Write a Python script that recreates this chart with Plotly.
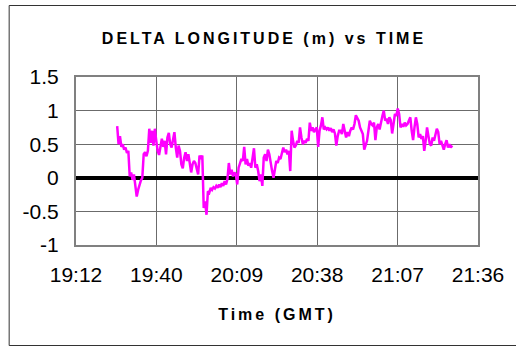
import pandas as pd
import plotly.graph_objects as go

# GPS longitude offset (metres), sampled every 30 s starting 19:26:45 GMT
start_time = "2000-01-01 19:26:45"
sample_step = "30s"
delta_lon = [
    0.77, 0.50, 0.62, 0.46, 0.50, 0.42, 0.45, 0.37, 0.40, 0.02,
    0.08, -0.03, 0.05, -0.15, -0.28, -0.18, -0.10, -0.04, 0.00, 0.35,
    0.38, 0.32, 0.40, 0.73, 0.52, 0.70, 0.48, 0.73, 0.55, 0.40,
    0.34, 0.50, 0.58, 0.46, 0.55, 0.35, 0.60, 0.67, 0.50, 0.45,
    0.55, 0.68, 0.45, 0.30, 0.48, 0.40, 0.20, 0.14, 0.30, 0.38,
    0.25, 0.35, 0.22, 0.08, 0.20, 0.25, 0.22, 0.15, 0.05, 0.33,
    0.30, 0.33, -0.45, -0.35, -0.55, -0.20, -0.22, -0.15, -0.18, -0.14,
    -0.16, -0.12, -0.15, -0.10, -0.14, -0.08, -0.12, -0.05, -0.10, -0.02,
    0.22, 0.05, 0.12, 0.02, 0.08, 0.05, -0.10, 0.15, 0.22, 0.28,
    0.25, 0.46, 0.20, 0.28, 0.18, 0.22, 0.15, 0.30, 0.44, 0.15,
    0.20, 0.10, -0.05, 0.05, -0.12, 0.30, 0.35, 0.25, 0.42, 0.35,
    0.20, 0.10, 0.00, 0.15, 0.25, 0.22, 0.30, 0.28, 0.35, 0.45,
    0.38, 0.42, 0.35, 0.40, 0.10, 0.70, 0.55, 0.45, 0.48, 0.55,
    0.52, 0.75, 0.60, 0.50, 0.55, 0.52, 0.58, 0.55, 0.82, 0.70,
    0.75, 0.68, 0.72, 0.75, 0.46, 0.70, 0.78, 0.90, 0.72, 0.75,
    0.72, 0.75, 0.70, 0.74, 0.68, 0.72, 0.66, 0.48, 0.62, 0.70,
    0.70, 0.65, 0.80, 0.72, 0.60, 0.68, 0.62, 0.70, 0.75, 0.72,
    0.80, 0.93, 0.88, 0.85, 0.75, 0.70, 0.65, 0.42, 0.50, 0.55,
    0.70, 0.85, 0.80, 0.78, 0.82, 0.56, 0.75, 0.80, 0.72, 0.85,
    0.92, 1.00, 0.85, 0.88, 0.80, 0.90, 0.86, 0.66, 0.80, 0.95,
    0.92, 1.03, 0.95, 0.75, 0.80, 0.76, 0.82, 0.78, 0.80, 0.85,
    0.90, 0.70, 0.56, 0.75, 0.90, 0.80, 0.60, 0.65, 0.58, 0.62,
    0.40, 0.55, 0.75, 0.62, 0.50, 0.48, 0.60, 0.55, 0.65, 0.73,
    0.68, 0.50, 0.55, 0.48, 0.42, 0.50, 0.56, 0.45, 0.50, 0.45,
    0.48,
]
times = pd.date_range(start_time, periods=len(delta_lon), freq=sample_step)

y_ticks = [-1, -0.5, 0, 0.5, 1, 1.5]
y_tick_text = ["-1", "-0.5", "0", "0.5", "1", "1.5"]
x_start = "2000-01-01 19:12:00"
x_end = "2000-01-01 21:36:00"
x_tick_step_ms = 28.8 * 60 * 1000

FONT = "Arial, Liberation Sans, sans-serif"
W, H = 516, 348
L, R, T, B = 76, 482, 77, 245


def px_to_paper(x, y):
    return (x - L) / (R - L), (B - y) / (B - T)


fig = go.Figure()
fig.add_trace(go.Scatter(
    x=times, y=delta_lon, mode="lines",
    line=dict(color="#FF00FF", width=2.5),
    showlegend=False,
))

bx0, by0 = px_to_paper(8.5, 345.5)
bx1, by1 = px_to_paper(530, 5.5)
fig.add_shape(type="rect", xref="paper", yref="paper",
              x0=bx0, y0=by0, x1=bx1, y1=by1,
              line=dict(color="#333333", width=1), layer="below")

fig.update_layout(
    width=W, height=H,
    margin=dict(l=L, r=W - R, t=T, b=H - B),
    paper_bgcolor="white", plot_bgcolor="white",
    font=dict(family=FONT, color="black"),
    title=dict(
        text='<span style="letter-spacing:3px">DELTA LONGITUDE (m) vs TIME</span>',
        font=dict(family=FONT, size=16, weight="bold", color="black"),
        xref="container", yref="container",
        x=264 / W, xanchor="center",
        y=1 - 38 / H, yanchor="middle",
    ),
    xaxis=dict(
        range=[x_start, x_end],
        tick0=x_start, dtick=x_tick_step_ms,
        tickformat="%H:%M",
        showgrid=True, gridcolor="#6b6b6b", gridwidth=1,
        showline=True, linecolor="#808080", linewidth=2, mirror=True,
        ticks="", ticklabelstandoff=10,
        tickfont=dict(family=FONT, size=21, color="black"),
        zeroline=False,
        title=dict(
            text='<span style="letter-spacing:3px">Time (GMT)</span>',
            font=dict(family=FONT, size=16, weight="bold", color="black"),
            standoff=24,
        ),
    ),
    yaxis=dict(
        range=[-1, 1.5],
        tickmode="array", tickvals=y_ticks, ticktext=y_tick_text,
        showgrid=True, gridcolor="#6b6b6b", gridwidth=1,
        showline=True, linecolor="#808080", linewidth=2, mirror=True,
        ticks="", ticklabelstandoff=11,
        tickfont=dict(family=FONT, size=21, color="black"),
        zeroline=True, zerolinecolor="black", zerolinewidth=4,
    ),
)

fig.write_html("out.html")
